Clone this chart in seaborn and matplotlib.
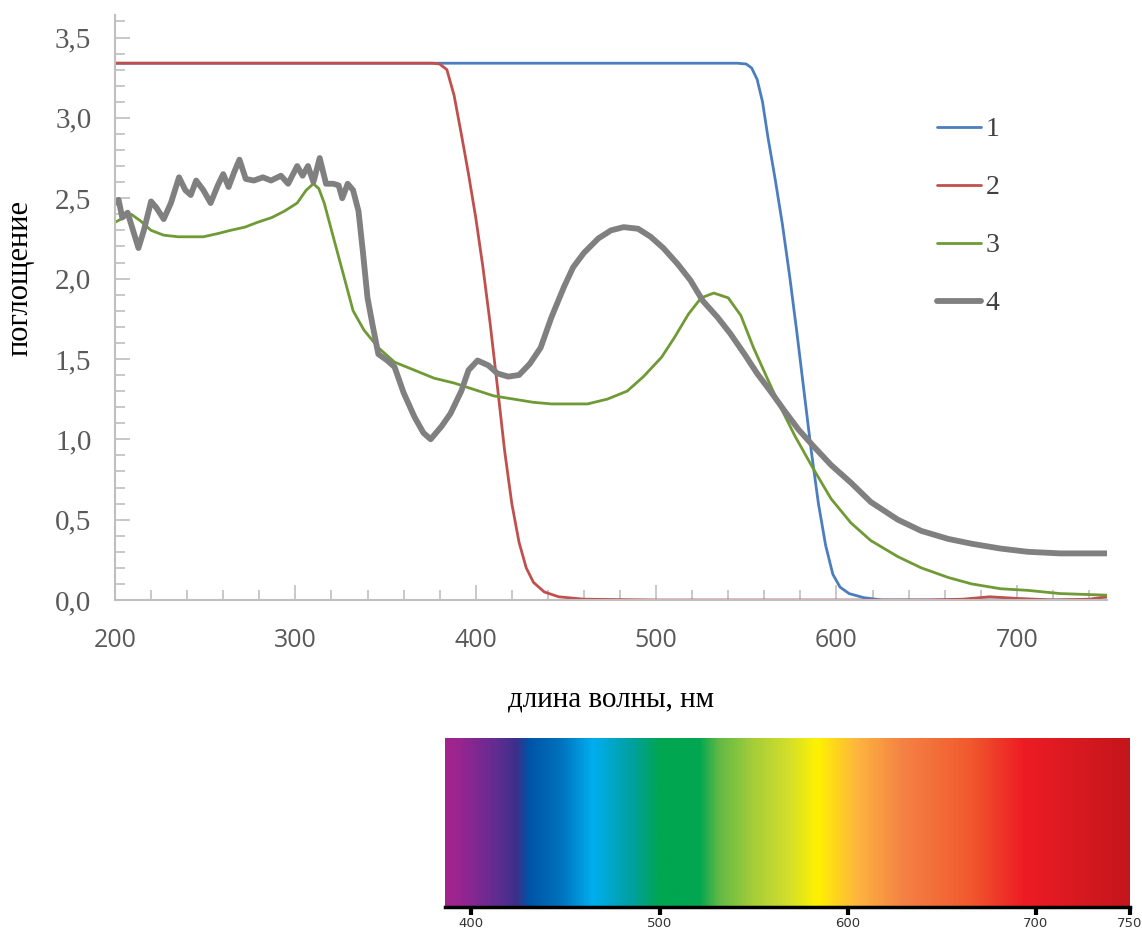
import numpy as np
import pandas as pd
import matplotlib
matplotlib.use("Agg")
import matplotlib.pyplot as plt
from matplotlib.colors import LinearSegmentedColormap
from matplotlib.ticker import MultipleLocator
import seaborn as sns

sns.set_style("ticks")
plt.rcParams['font.family'] = ['Liberation Serif', 'DejaVu Serif']

# curve 1 (blue)
nm1 = [200, 300, 400, 500, 545, 550, 553, 556, 559, 562, 566, 570, 574, 578, 582,
       586, 590, 594, 598, 602, 607, 615, 625, 650, 700, 750]
a1 = [3.34, 3.34, 3.34, 3.34, 3.34, 3.335, 3.31, 3.24, 3.10, 2.88, 2.62, 2.34, 2.02,
      1.67, 1.30, 0.93, 0.60, 0.34, 0.16, 0.08, 0.04, 0.015, 0.0, 0.0, 0.0, 0.0]

# curve 2 (red)
nm2 = [200, 300, 376, 380, 384, 388, 392, 396, 400, 404, 408, 412, 416, 420, 424,
       428, 432, 438, 446, 460, 500, 650, 670, 685, 700, 720, 740, 750]
a2 = [3.34, 3.34, 3.34, 3.335, 3.30, 3.14, 2.90, 2.65, 2.38, 2.07, 1.72, 1.33, 0.93,
      0.60, 0.36, 0.20, 0.11, 0.05, 0.02, 0.005, 0.0, 0.0, 0.005, 0.02, 0.01, 0.0,
      0.005, 0.02]

# curve 3 (green)
nm3 = [200, 205, 209, 214, 220, 227, 235, 242, 249, 257, 264, 272, 279, 287, 294,
       301, 306, 310, 313, 316, 321, 327, 332, 338, 346, 355, 366, 377, 388, 399,
       410, 421, 432, 442, 462, 473, 484, 493, 503, 510, 518, 525, 532, 540, 547,
       554, 562, 569, 577, 587, 597, 608, 619, 634, 647, 662, 675, 691, 706, 724, 750]
a3 = [2.35, 2.38, 2.40, 2.36, 2.30, 2.27, 2.26, 2.26, 2.26, 2.28, 2.30, 2.32, 2.35,
      2.38, 2.42, 2.47, 2.55, 2.59, 2.56, 2.47, 2.26, 2.01, 1.80, 1.68, 1.57, 1.48,
      1.43, 1.38, 1.35, 1.31, 1.27, 1.25, 1.23, 1.22, 1.22, 1.25, 1.30, 1.39, 1.51,
      1.63, 1.78, 1.88, 1.91, 1.88, 1.77, 1.57, 1.37, 1.20, 1.02, 0.82, 0.63, 0.48,
      0.37, 0.27, 0.20, 0.14, 0.10, 0.07, 0.06, 0.04, 0.03]

# curve 4 (gray)
nm4 = [200, 202, 204, 207, 210, 213, 216, 220, 223, 227, 231, 235.5, 239, 242, 245,
       249, 253, 257, 260, 263, 266, 269, 272.5, 277, 282, 286.5, 292, 296, 301, 304,
       307, 310, 313.5, 317, 321, 324, 326, 329, 332, 335, 337.5, 340, 343, 346, 351,
       355, 360, 366, 371, 375, 381, 386, 392, 396, 401, 407, 412, 418, 424, 430, 436,
       442, 449, 454, 460, 468, 475, 482, 490, 497, 504, 512, 519, 526, 534, 541, 549,
       556, 564, 571, 579, 587, 597, 608, 619, 634, 647, 662, 675, 691, 706, 724, 750]
a4 = [2.47, 2.49, 2.38, 2.41, 2.30, 2.19, 2.30, 2.48, 2.44, 2.37, 2.47, 2.63, 2.55,
      2.52, 2.61, 2.55, 2.47, 2.58, 2.65, 2.57, 2.66, 2.74, 2.62, 2.61, 2.63, 2.61,
      2.64, 2.59, 2.70, 2.64, 2.70, 2.60, 2.75, 2.59, 2.59, 2.58, 2.50, 2.59, 2.55,
      2.42, 2.16, 1.88, 1.70, 1.53, 1.49, 1.45, 1.29, 1.14, 1.04, 1.00, 1.08, 1.16,
      1.30, 1.43, 1.49, 1.46, 1.41, 1.39, 1.40, 1.47, 1.57, 1.76, 1.95, 2.07, 2.16,
      2.25, 2.30, 2.32, 2.31, 2.26, 2.19, 2.09, 1.99, 1.86, 1.76, 1.66, 1.53, 1.41,
      1.29, 1.18, 1.06, 0.96, 0.84, 0.73, 0.61, 0.50, 0.43, 0.38, 0.35, 0.32, 0.30,
      0.29, 0.29]

series_labels = ['1', '2', '3', '4']
series_colors = ['#4a7ebf', '#c0504d', '#6f9a35', '#808080']
series_widths = [2.0, 2.0, 2.0, 4.2]

x_ticks = [200, 300, 400, 500, 600, 700]
y_ticks = [0.0, 0.5, 1.0, 1.5, 2.0, 2.5, 3.0, 3.5]
y_tick_labels = ['0,0', '0,5', '1,0', '1,5', '2,0', '2,5', '3,0', '3,5']

# colour bar of the visible spectrum
spectrum_nm = [386, 392, 414, 423, 430, 447, 464, 485, 500, 521, 531, 550, 569, 584,
               605, 629, 665, 694, 750]
spectrum_colors = ['#a3238e', '#9c2590', '#5c2d91', '#3d2f8a', '#0054a6', '#0072bc',
                   '#00aeef', '#00a0a0', '#00a650', '#00a650', '#60b846', '#a6ce39',
                   '#d4df2a', '#fff200', '#fdb53f', '#f58345', '#f15a2e', '#ed1c24',
                   '#c4161c']
spectrum_ticks = [400, 500, 600, 700, 750]

fig = plt.figure(figsize=(11.42, 9.35), dpi=100)
ax = fig.add_axes([115 / 1142, 1 - 600 / 935, 992 / 1142, 585 / 935])

for nm, a, lab, col, lw in zip([nm1, nm2, nm3, nm4], [a1, a2, a3, a4],
                               series_labels, series_colors, series_widths):
    df = pd.DataFrame({'nm': nm, 'a': a})
    sns.lineplot(data=df, x='nm', y='a', ax=ax, color=col, linewidth=lw,
                 label=lab, sort=False, solid_joinstyle='round')

ax.set_xlim(200, 750)
ax.set_ylim(0, 3.64)
ax.set_xticks(x_ticks)
ax.xaxis.set_minor_locator(MultipleLocator(20))
ax.set_yticks(y_ticks)
ax.set_yticklabels(y_tick_labels)
ax.yaxis.set_minor_locator(MultipleLocator(0.1))
sns.despine(ax=ax)
for s in ['left', 'bottom']:
    ax.spines[s].set_color('#bfbfbf')
    ax.spines[s].set_linewidth(1.5)
ax.tick_params(which='major', direction='in', length=11, width=1.2, color='#bfbfbf',
               labelcolor='#595959', labelsize=21, pad=17)
ax.tick_params(which='minor', direction='in', length=7, width=1.2, color='#bfbfbf')
for t in ax.get_xticklabels():
    t.set_family(['Open Sans', 'DejaVu Sans'])
    t.set_fontsize(18)
ax.tick_params(axis='x', which='major', pad=20)

ax.set_xlabel('длина волны, нм', fontsize=21, color='black', labelpad=24)
ax.set_ylabel('поглощение', fontsize=22, color='black')
ax.yaxis.set_label_coords(-81 / 992, 0.55)

ax.legend(loc='upper left', bbox_to_anchor=(912 / 1142, 1 - 92 / 935),
          bbox_transform=fig.transFigure, frameon=False, fontsize=20,
          handlelength=1.6, handletextpad=0.15, labelspacing=1.17,
          labelcolor='#404040')

# spectrum strip
sax = fig.add_axes([445 / 1142, 1 - 907 / 935, 685 / 1142, 169 / 935])
lo, hi = spectrum_nm[0], spectrum_nm[-1]
pos = [(v - lo) / (hi - lo) for v in spectrum_nm]
cmap = LinearSegmentedColormap.from_list('spec', list(zip(pos, spectrum_colors)))
grad = np.linspace(lo, hi, 1000)[None, :]
sax.imshow(grad, extent=[lo, hi, 0, 1], aspect='auto', cmap=cmap, vmin=lo, vmax=hi)
sax.set_xlim(lo, hi)
sax.set_ylim(0, 1)
sax.set_yticks([])
sax.set_xticks(spectrum_ticks)
for s in ['top', 'left', 'right']:
    sax.spines[s].set_visible(False)
sax.spines['bottom'].set_linewidth(2.5)
sax.spines['bottom'].set_color('black')
sax.tick_params(axis='x', direction='out', length=6, width=3, color='black',
                labelsize=9.5, labelcolor='#333333', pad=1.5)
for t in sax.get_xticklabels():
    t.set_family(['DejaVu Sans'])

fig.savefig('out.png', dpi=100)
